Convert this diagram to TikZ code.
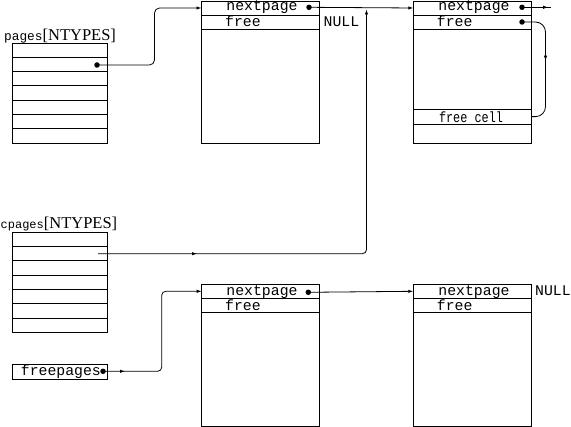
\documentclass[tikz,border=0pt]{standalone}
\usepackage{fontspec}
\setmainfont{Liberation Serif}
\setmonofont{Liberation Mono}
\usetikzlibrary{arrows.meta,decorations.markings}
\tikzset{
  >={Latex[length=5pt,width=3.4pt]},
  box/.style={draw, line width=0.8pt, inner sep=0pt, outer sep=0pt, anchor=north west},
  dotc/.style={circle, fill, inner sep=0pt, minimum size=5.5pt},
  conn/.style={line width=0.8pt},
  midtip/.style={postaction={decorate}, decoration={markings, mark=at position #1 with {\arrow{>}}}},
  tt/.style={font=\fontsize{14.8}{16}\selectfont\ttfamily, inner sep=0pt},
  lbl/.style={inner sep=0pt, anchor=base west},
}
\begin{document}
\begin{tikzpicture}[x=1pt,y=-1pt]
\useasboundingbox (0,0) rectangle (571,427);

% pages array
\node[lbl] (lpages) at (4,40.5) {\fontsize{12.8}{14}\selectfont\ttfamily pages\fontsize{16.5}{18}\selectfont\rmfamily[NTYPES]};
\foreach \i in {0,...,6}
  \node[box, minimum width=95pt, minimum height=14.3pt] (pg\i) at (12,{43+14.3*\i}) {};
\node[dotc] (d1) at (97,65) {};

% cpages array
\node[lbl] (lcpages) at (0.5,229) {\fontsize{12}{14}\selectfont\ttfamily cpages\fontsize{16.5}{18}\selectfont\rmfamily[NTYPES]};
\foreach \i in {0,...,6}
  \node[box, minimum width=95pt, minimum height=14.3pt] (cp\i) at (12,{232.3+14.3*\i}) {};
\coordinate (c0) at (98,253.7);

% freepages
\node[box, minimum width=95pt, minimum height=15pt] (fp) at (12,364.3) {};
\node[tt, anchor=base west] (tfp) at (20.7,376) {freepages};
\node[dotc] (d6) at (103,371.3) {};

% page 1
\node[box, minimum width=118pt, minimum height=142.3pt] (p1) at (201.5,1) {};
\node[box, minimum width=118pt, minimum height=14pt] (p1n) at (201.5,1) {};
\node[box, minimum width=118pt, minimum height=14.3pt] (p1f) at (201.5,15) {};
\node[tt, anchor=base] (t1n) at (262,11) {nextpage};
\node[tt, anchor=base west] (t1f) at (225,27) {free};
\node[tt, anchor=base west] (null1) at (323.5,26.7) {NULL};
\node[dotc] (d2) at (309,7.3) {};

% page 2
\node[box, minimum width=118.5pt, minimum height=142.3pt] (p2) at (413.3,1) {};
\node[box, minimum width=118.5pt, minimum height=14pt] (p2n) at (413.3,1) {};
\node[box, minimum width=118.5pt, minimum height=14.3pt] (p2f) at (413.3,15) {};
\node[box, minimum width=118.5pt, minimum height=15.3pt] (fc) at (413.3,109) {};
\node[tt, anchor=base] (t2n) at (474,11) {nextpage};
\node[tt, anchor=base west] (t2f) at (436.7,27) {free};
\node[tt, anchor=base] (tfc) at (471,122.7) {\scalebox{0.8}[1]{free cell}};
\node[dotc] (d3) at (522,7.3) {};
\node[dotc] (d4) at (522,22) {};
\coordinate (e3) at (551,7.3);

% page 3
\node[box, minimum width=117.6pt, minimum height=141.7pt] (p3) at (201.7,284.3) {};
\node[box, minimum width=117.6pt, minimum height=14pt] (p3n) at (201.7,284.3) {};
\node[box, minimum width=117.6pt, minimum height=14pt] (p3f) at (201.7,298.3) {};
\node[tt, anchor=base] (t3n) at (262,295.5) {nextpage};
\node[tt, anchor=base west] (t3f) at (225,310.5) {free};
\node[dotc] (d5) at (308.3,292.3) {};

% page 4
\node[box, minimum width=118.4pt, minimum height=141.7pt] (p4) at (413.3,284.3) {};
\node[box, minimum width=118.4pt, minimum height=14pt] (p4n) at (413.3,284.3) {};
\node[box, minimum width=118.4pt, minimum height=14pt] (p4f) at (413.3,298.3) {};
\node[tt, anchor=base] (t4n) at (474,295.5) {nextpage};
\node[tt, anchor=base west] (t4f) at (436.7,310.5) {free};
\node[tt, anchor=base west] (null4) at (535,295.5) {NULL};

% bends
\coordinate (k1) at (154.5,0);
\coordinate (t2) at (366.5,9.5);
\coordinate (k4) at (545.5,0);
\coordinate (k6) at (161.7,0);

% connectors
\draw[conn, rounded corners=5pt, ->] (d1.center) -- (d1.center -| k1) |- (p1n.west);
\draw[conn, ->] (d2.center) -- (p2n.west);
\draw[conn, midtip=0.9] (d3.center) -- (e3);
\draw[conn, rounded corners=10pt, midtip=0.47] (d4.center) -- (d4.center -| k4) -- (k4 |- fc.east) -- (fc.east);
\draw[conn, rounded corners=4pt, midtip=99pt, ->] (c0) -| (t2);
\draw[conn, rounded corners=4pt, midtip=22pt, ->] (d6.center) -- (d6.center -| k6) |- (p3n.west);
\draw[conn, ->] (d5.center) -- (p4n.west);
\end{tikzpicture}
\end{document}
